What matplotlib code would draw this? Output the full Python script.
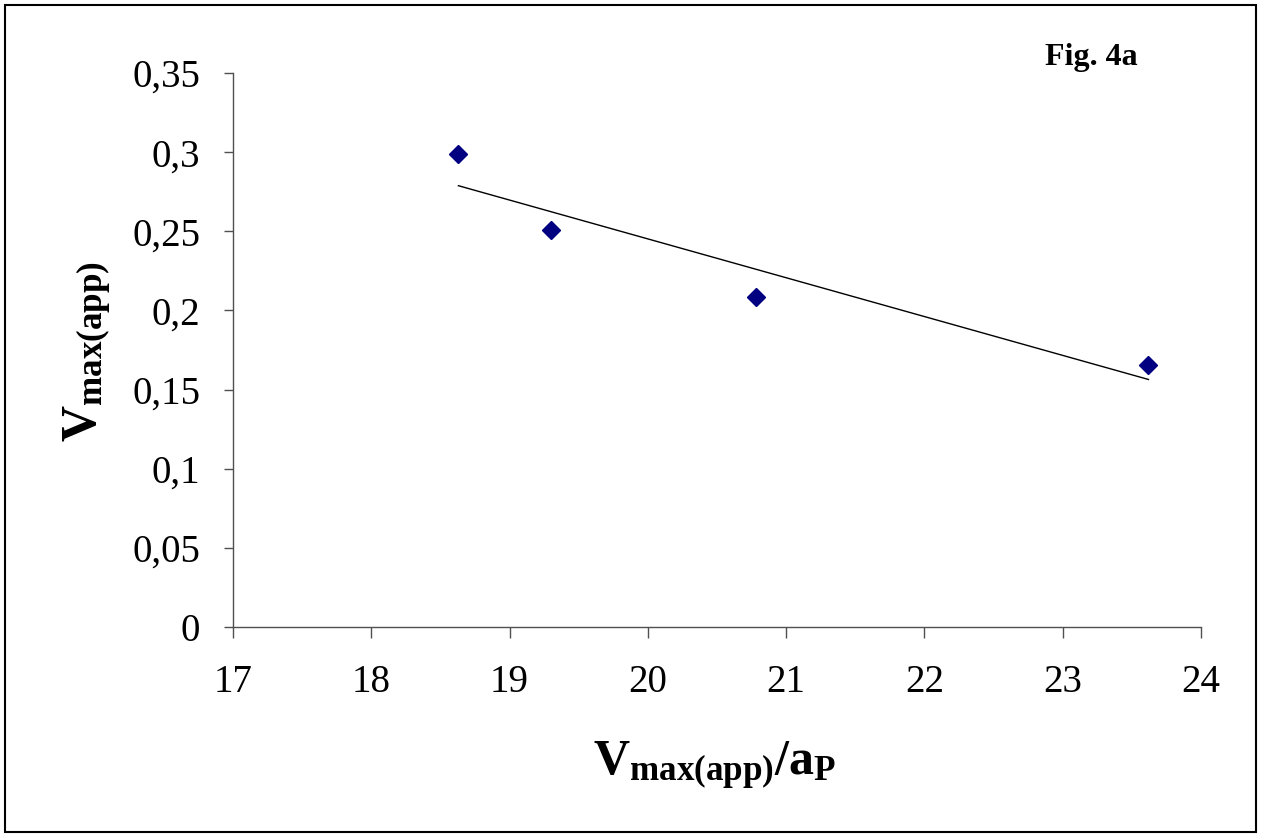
import numpy as np
import matplotlib
matplotlib.use('Agg')
import matplotlib.pyplot as plt
from matplotlib.patches import Rectangle

plt.rcParams['font.family'] = 'Liberation Serif'
plt.rcParams['mathtext.fontset'] = 'custom'
plt.rcParams['mathtext.rm'] = 'Liberation Serif'
plt.rcParams['mathtext.bf'] = 'Liberation Serif:bold'

# data
x_ratio = [18.63, 19.30, 20.78, 23.62]
v_max = [0.2988, 0.2508, 0.2085, 0.1655]

x_ticks = [17, 18, 19, 20, 21, 22, 23, 24]
y_ticks = [0, 0.05, 0.1, 0.15, 0.2, 0.25, 0.3, 0.35]
y_ticklabels = ['0', '0,05', '0,1', '0,15', '0,2', '0,25', '0,3', '0,35']

fig = plt.figure(figsize=(12.62, 8.39), dpi=100)
ax = fig.add_axes([233/1262, 1 - 627/839, 968/1262, 554/839])

# linear trend line over data range
slope, icpt = np.polyfit(x_ratio, v_max, 1)
xl = np.array([min(x_ratio), max(x_ratio)])
ax.plot(xl, slope*xl + icpt, color='black', lw=1)

ax.plot(x_ratio, v_max, 'D', color='#000080', ms=9.5, mec='#000080')

ax.set_xlim(17, 24)
ax.set_ylim(0, 0.35)
ax.set_xticks(x_ticks)
ax.set_yticks(y_ticks)
ax.set_yticklabels(y_ticklabels)

for s in ['top', 'right']:
    ax.spines[s].set_visible(False)
for s in ['left', 'bottom']:
    ax.spines[s].set_color('#505050')
    ax.spines[s].set_linewidth(1)

ax.tick_params(axis='y', direction='out', length=6.5, width=1, color='#505050',
               labelsize=28, pad=17)
ax.tick_params(axis='x', direction='out', length=8, width=1, color='#505050',
               labelsize=28, pad=19)

fig.text(88/1262, 1 - 352/839, r'$\mathbf{V_{max(app)}}$', rotation=90,
         ha='center', va='center', fontsize=36)
fig.text(715/1262, 1 - 766/839, r'$\mathbf{V_{max(app)}/a_P}$',
         ha='center', va='center', fontsize=36)
fig.text(1091/1262, 1 - 58/839, 'Fig. 4a', ha='center', va='center',
         fontsize=23, fontweight='bold')

fig.patches.append(Rectangle((5/1262, 7/839), 1251/1262, 827/839,
                             transform=fig.transFigure, fill=False,
                             edgecolor='black', lw=1.5))

fig.savefig('out.png', dpi=100)
